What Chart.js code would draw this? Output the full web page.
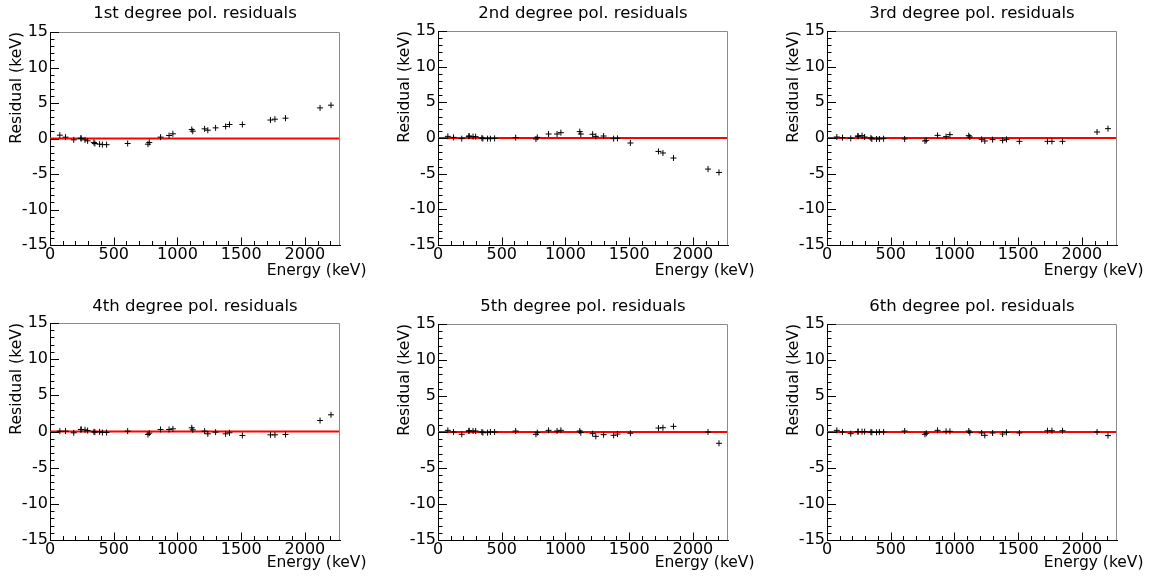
<!DOCTYPE html>
<html><head><meta charset="utf-8">
<script src="https://cdn.jsdelivr.net/npm/chart.js@4.4.0/dist/chart.umd.min.js"></script>
<style>
html,body{margin:0;padding:0;background:#fff;}
#wrap{position:relative;width:1151px;height:576px;overflow:hidden;background:#fff;}
canvas{position:absolute;}
</style></head><body><div id="wrap"></div>
<script>
// ---- data ----
const energies = [77.1, 121.8, 186.2, 242.0, 244.7, 274.8, 295.2, 344.3, 351.9, 388.9, 411.1, 444.0, 609.3, 768.4, 778.9, 867.4, 934.1, 964.1, 1112.1, 1120.3, 1212.9, 1238.1, 1299.1, 1377.7, 1408.0, 1509.2, 1729.6, 1764.5, 1847.4, 2118.5, 2204.2];
const res1 = [0.47, 0.19, -0.19, 0.05, 0.0, -0.19, -0.33, -0.56, -0.7, -0.8, -0.85, -0.87, -0.7, -0.8, -0.56, 0.19, 0.42, 0.66, 1.27, 1.03, 1.36, 1.17, 1.5, 1.69, 1.97, 1.97, 2.6, 2.72, 2.86, 4.31, 4.69];
const res2 = [0.23, 0.09, -0.09, 0.23, 0.28, 0.19, 0.19, 0.0, -0.09, -0.09, -0.09, -0.05, 0.05, -0.14, 0.09, 0.56, 0.56, 0.75, 0.89, 0.56, 0.52, 0.23, 0.28, -0.09, -0.05, -0.7, -1.88, -2.1, -2.81, -4.36, -4.83];
const res3 = [0.14, 0.05, -0.05, 0.28, 0.23, 0.33, 0.14, 0.0, -0.14, -0.14, -0.14, -0.09, -0.14, -0.42, -0.33, 0.37, 0.19, 0.47, 0.33, 0.14, -0.19, -0.42, -0.23, -0.33, -0.19, -0.47, -0.47, -0.47, -0.47, 0.84, 1.31];
const res4 = [0.05, 0.05, -0.18, 0.28, 0.28, 0.23, 0.14, -0.05, -0.09, -0.05, -0.14, -0.14, 0.05, -0.42, -0.23, 0.28, 0.28, 0.37, 0.51, 0.23, 0.05, -0.32, -0.09, -0.32, -0.18, -0.55, -0.46, -0.46, -0.42, 1.52, 2.31];
const res5 = [0.23, 0.0, -0.32, 0.14, 0.18, 0.14, 0.14, 0.0, -0.09, -0.09, 0.0, 0.0, 0.14, -0.32, -0.09, 0.23, 0.14, 0.23, 0.14, -0.09, -0.23, -0.6, -0.37, -0.46, -0.28, -0.18, 0.55, 0.6, 0.78, 0.0, -1.57];
const res6 = [0.23, 0.0, -0.23, 0.05, 0.05, 0.05, 0.05, 0.0, -0.05, -0.05, 0.0, 0.0, 0.14, -0.32, -0.18, 0.23, 0.09, 0.09, 0.14, -0.09, -0.14, -0.46, -0.14, -0.28, -0.05, -0.14, 0.18, 0.18, 0.18, 0.0, -0.5];
const residuals = [res1, res2, res3, res4, res5, res6];
const titles = ['1st degree pol. residuals', '2nd degree pol. residuals', '3rd degree pol. residuals', '4th degree pol. residuals', '5th degree pol. residuals', '6th degree pol. residuals'];
const xRange = [0, 2275];
const yRange = [-15, 15];
const zeroLineY = [0, 0];
const xAxisTitle = 'Energy (keV)';
const yAxisTitle = 'Residual (keV)';

// ---- layout (pixel geometry of each pad) ----
const pads = [
  {L: 50,  T: 32,  B: 245, titleY: 14,    xTitleY: 271, y0: 0},
  {L: 438, T: 31,  B: 245, titleY: 14,    xTitleY: 271, y0: 0},
  {L: 827, T: 31,  B: 245, titleY: 14,    xTitleY: 271, y0: 0},
  {L: 50,  T: 323, B: 540, titleY: 306.5, xTitleY: 563, y0: 288},
  {L: 438, T: 324, B: 540, titleY: 306.5, xTitleY: 563, y0: 288},
  {L: 827, T: 324, B: 540, titleY: 306.5, xTitleY: 563, y0: 288}
];
const FW = 290;
const FONT = 'DejaVu Sans';

const rootFrame = {
  id: 'rootFrame',
  afterDraw(chart, args, opts) {
    const {ctx, chartArea: {left, right, top, bottom}, scales: {x, y}} = chart;
    ctx.save();
    ctx.lineWidth = 1;
    ctx.strokeStyle = '#8a8a8a';
    ctx.beginPath();
    ctx.moveTo(left, top + 0.5); ctx.lineTo(right - 0.5, top + 0.5); ctx.lineTo(right - 0.5, bottom);
    ctx.stroke();
    ctx.strokeStyle = '#000';
    ctx.beginPath();
    y.ticks.forEach(t => {
      const py = Math.round(y.getPixelForValue(t.value)) + 0.5;
      const len = (t.value % 5 === 0) ? 9 : 4.5;
      ctx.moveTo(left, py); ctx.lineTo(left + len, py);
    });
    x.ticks.forEach(t => {
      const px = Math.round(x.getPixelForValue(t.value)) + 0.5;
      const len = (t.value % 500 === 0) ? 7.5 : 4;
      ctx.moveTo(px, bottom); ctx.lineTo(px, bottom - len);
    });
    ctx.stroke();
    ctx.fillStyle = '#000';
    ctx.font = '15.5px "' + FONT + '"';
    ctx.textAlign = 'right';
    ctx.textBaseline = 'middle';
    ctx.fillText(opts.text, right + 26.5, opts.y);
    ctx.restore();
  }
};

const wrap = document.getElementById('wrap');
pads.forEach((p, i) => {
  const x0 = p.L - 50;
  const w = Math.min(383, 1151 - x0);
  const h = 288;
  const R = p.L + FW;
  const cv = document.createElement('canvas');
  cv.width = w; cv.height = h;
  cv.style.left = x0 + 'px'; cv.style.top = p.y0 + 'px';
  wrap.appendChild(cv);
  const tPadTop = (p.titleY - p.y0) - 9.9;
  const tPadBottom = (p.T - p.y0) - tPadTop - 19.8;
  const res = residuals[i];
  new Chart(cv, {
    type: 'scatter',
    data: {
      datasets: [
        {type: 'line', data: xRange.map((xv, k) => ({x: xv, y: zeroLineY[k]})), borderColor: '#ff0000', borderWidth: 2.2, pointRadius: 0, order: 2},
        {data: energies.map((e, k) => ({x: e, y: res[k]})), pointStyle: 'cross', pointRadius: 3, borderColor: '#000', borderWidth: 1, backgroundColor: '#000', showLine: false, order: 1}
      ]
    },
    options: {
      responsive: false, animation: false, devicePixelRatio: 1,
      layout: {padding: {left: 0, top: 0, right: x0 + w - R, bottom: 0}},
      plugins: {
        legend: {display: false}, tooltip: {enabled: false},
        title: {display: true, text: titles[i], fullSize: false, color: '#000',
          font: {family: FONT, size: 16.5, weight: 'normal', lineHeight: 1.2},
          padding: {top: tPadTop, bottom: tPadBottom}},
        rootFrame: {text: xAxisTitle, y: p.xTitleY - p.y0}
      },
      scales: {
        x: {type: 'linear', position: 'bottom', min: xRange[0], max: xRange[1],
          grid: {display: false, drawTicks: false},
          border: {display: true, color: '#000', width: 1},
          ticks: {stepSize: 100, includeBounds: false, autoSkip: false, maxRotation: 0, minRotation: 0, padding: 0, color: '#000',
            font: {family: FONT, size: 16},
            callback: v => (v % 500 === 0 ? String(v) : '')},
          afterFit: s => { s.height = p.y0 + h - p.B; }
        },
        y: {type: 'linear', position: 'left', min: yRange[0], max: yRange[1],
          grid: {display: false, drawTicks: false},
          border: {display: true, color: '#000', width: 1},
          ticks: {stepSize: 1, autoSkip: false, padding: 2, color: '#000',
            font: {family: FONT, size: 16},
            callback: v => (v % 5 === 0 ? String(v) : '')},
          title: {display: true, text: yAxisTitle, align: 'end', color: '#000',
            font: {family: FONT, size: 15.6, lineHeight: 1.2}, padding: {top: 7.1, bottom: 0}},
          afterFit: s => { s.width = 50; }
        }
      }
    },
    plugins: [rootFrame]
  });
});
</script>
</body></html>
